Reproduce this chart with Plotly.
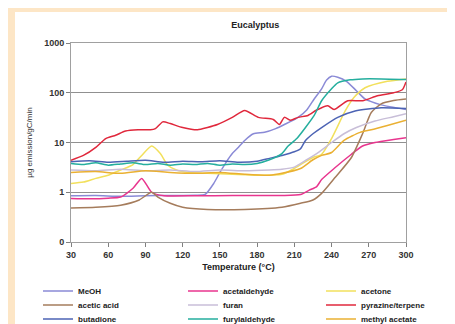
import plotly.graph_objects as go

# ---- data ----
meoh_t = [30, 50, 70, 90, 110, 130, 138, 145, 150, 155, 160, 165, 170, 177, 186, 195, 202, 213, 220, 226, 232, 236, 240, 245, 252, 260, 267, 280, 300]
meoh_v = [0.85, 0.86, 0.83, 0.85, 0.86, 0.87, 0.9, 1.5, 2.5, 4, 6, 8, 11, 15, 16, 19, 23, 32, 45, 75, 120, 180, 215, 205, 170, 110, 75, 57, 46]

acetald_t = [30, 45, 60, 70, 80, 87, 95, 105, 130, 160, 200, 215, 222, 228, 232, 242, 256, 265, 275, 290, 300]
acetald_v = [0.75, 0.74, 0.76, 0.8, 1.2, 1.9, 1.0, 0.85, 0.85, 0.86, 0.86, 0.9, 1.1, 1.3, 1.8, 3, 5.8, 8.5, 10, 11.5, 12.5]

acetone_t = [30, 40, 50, 60, 70, 80, 87, 95, 102, 108, 115, 125, 140, 160, 180, 200, 210, 218, 225, 232, 240, 251, 258, 267, 285, 300]
acetone_v = [1.5, 1.6, 1.9, 2.2, 2.8, 3.6, 5.5, 8.5, 6, 3.5, 2.8, 2.5, 2.4, 2.3, 2.2, 2.3, 3, 4, 5, 5.8, 12, 43, 80, 126, 170, 190]

acetic_t = [30, 50, 70, 85, 95, 100, 110, 120, 140, 170, 200, 215, 225, 232, 243, 256, 265, 272, 280, 290, 300]
acetic_v = [0.48, 0.5, 0.55, 0.7, 1.0, 0.8, 0.6, 0.5, 0.45, 0.45, 0.5, 0.6, 0.7, 0.95, 2, 5, 15, 40, 60, 70, 75]

furan_t = [30, 50, 70, 90, 110, 130, 150, 170, 190, 200, 210, 220, 230, 240, 250, 260, 275, 290, 300]
furan_v = [2.8, 2.7, 2.9, 2.7, 2.8, 2.6, 2.8, 2.7, 2.8, 2.9, 3.2, 4.5, 6.5, 10, 15, 20, 27, 33, 38]

pyraz_t = [30, 40, 50, 58, 66, 74, 84, 94, 98, 104, 110, 120, 132, 140, 148, 160, 170, 181, 193, 198, 202, 207, 213, 221, 228, 237, 242, 253, 265, 277, 290, 297, 300]
pyraz_v = [4.4, 5.5, 8, 12, 14, 17, 18, 18, 19, 26, 24, 20, 18, 20, 23, 32, 44, 32, 29, 23, 32, 28, 32, 35, 45, 55, 46, 69, 69, 87, 100, 115, 165]

butad_t = [30, 45, 60, 75, 90, 105, 120, 135, 150, 165, 180, 190, 200, 210, 215, 219, 225, 232, 245, 259, 280, 300]
butad_v = [4.1, 4.3, 4.0, 4.2, 4.4, 4.0, 4.2, 4.1, 4.3, 4.0, 4.2, 4.8, 5.5, 6.5, 7.5, 11, 15, 20, 32, 43, 50, 48]

furyl_t = [30, 40, 50, 60, 70, 80, 90, 100, 110, 120, 130, 140, 150, 160, 170, 180, 190, 200, 205, 212, 219, 226, 232, 240, 245, 255, 265, 280, 300]
furyl_v = [3.8, 3.6, 3.9, 3.5, 3.7, 3.9, 3.6, 3.8, 3.5, 3.7, 3.6, 3.8, 3.5, 3.7, 3.6, 3.8, 4.5, 6, 8.5, 12, 20, 35, 69, 120, 158, 182, 190, 190, 185]

methac_t = [30, 50, 70, 90, 110, 130, 150, 170, 190, 200, 215, 225, 232, 240, 250, 263, 272, 285, 300]
methac_v = [2.5, 2.6, 2.4, 2.7, 2.5, 2.4, 2.5, 2.3, 2.2, 2.4, 3, 4.5, 5.5, 6.3, 11, 16, 18, 22, 28]

series = [
    ("MeOH", meoh_t, meoh_v, "#8a8ad6"),
    ("acetaldehyde", acetald_t, acetald_v, "#e8358e"),
    ("acetone", acetone_t, acetone_v, "#f2e05c"),
    ("acetic acid", acetic_t, acetic_v, "#a57c5c"),
    ("furan", furan_t, furan_v, "#c8bed8"),
    ("pyrazine/terpene", pyraz_t, pyraz_v, "#e0283c"),
    ("butadione", butad_t, butad_v, "#4c63b4"),
    ("furylaldehyde", furyl_t, furyl_v, "#25ae9e"),
    ("methyl acetate", methac_t, methac_v, "#eab032"),
]

x_ticks = [30, 60, 90, 120, 150, 180, 210, 240, 270, 300]
y_ticks = [0.1, 1, 10, 100, 1000]
y_tick_text = ["0", "1", "10", "100", "1000"]

FONT = "Liberation Sans, Arial, sans-serif"

W, H = 455, 324
ml, mr, mt, mb = 63, 57, 35, 90
pw, ph = W - ml - mr, H - mt - mb

def px_x(p):
    return (p - ml) / pw

def px_y(p):
    return (H - mb - p) / ph

# legend grid: 3 columns x 3 rows (row-major like the reference)
col_text_x = [72, 217, 355]
row_y = [283, 297, 311]

fig = go.Figure()
legends = {}
for i, (name, t, v, c) in enumerate(series):
    lname = "legend" if i == 0 else f"legend{i + 1}"
    r, col = divmod(i, 3)
    legends[lname] = dict(
        x=px_x(col_text_x[col] - 42), xanchor="left",
        y=px_y(row_y[r]), yanchor="middle",
        bgcolor="rgba(0,0,0,0)", borderwidth=0, itemwidth=30,
        font=dict(size=8, color="#222", weight="bold"),
    )
    fig.add_trace(go.Scatter(x=t, y=v, name=name, mode="lines", legend=lname,
                             line=dict(color=c, width=1.5, shape="spline", smoothing=0.6)))

fig.update_layout(
    width=W, height=H,
    margin=dict(l=ml, r=mr, t=mt, b=mb, pad=0, autoexpand=False),
    paper_bgcolor="#fde6c6",
    plot_bgcolor="white",
    font=dict(family=FONT, size=9, color="#222"),
    title=dict(text="<b>Eucalyptus</b>", x=px_x(245), xanchor="center",
               y=1 - 17 / H, yanchor="middle", font=dict(size=9, color="#222")),
    showlegend=True,
    shapes=[
        dict(type="rect", xref="paper", yref="paper", layer="below",
             x0=px_x(7), x1=px_x(460), y0=px_y(330), y1=px_y(4),
             fillcolor="white", line=dict(width=0)),
    ],
    **legends,
)

fig.update_xaxes(
    range=[30, 300], tickvals=x_ticks, ticktext=[str(t) for t in x_ticks],
    showgrid=False, zeroline=False,
    showline=True, linecolor="#a0a0a0", linewidth=1, mirror=True,
    ticks="outside", ticklen=4, tickcolor="#808080",
    tickfont=dict(size=9, color="#333", weight="bold"),
    title=dict(text="Temperature (°C)", standoff=4, font=dict(size=9, color="#222", weight="bold")),
)
fig.update_yaxes(
    type="log", range=[-1, 3], tickvals=y_ticks, ticktext=y_tick_text,
    showgrid=True, gridcolor="#909090", gridwidth=1, zeroline=False,
    showline=True, linecolor="#a0a0a0", linewidth=1, mirror=True,
    ticks="outside", ticklen=4, tickcolor="#808080",
    tickfont=dict(size=9, color="#333", weight="bold"),
    title=dict(text="µg emission/gC/min", standoff=10, font=dict(size=8, color="#333")),
)

fig.write_html("out.html")
